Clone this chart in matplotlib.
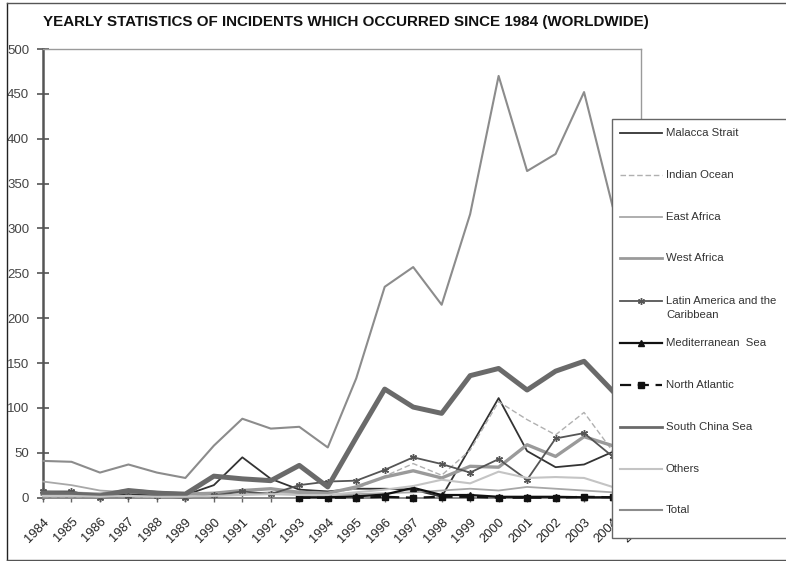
import numpy as np
import matplotlib
matplotlib.use("Agg")
import matplotlib.pyplot as plt
from matplotlib.lines import Line2D
from matplotlib.patches import Rectangle

plt.rcParams['font.family'] = ['Liberation Sans', 'DejaVu Sans']

years = list(range(1984, 2005))
tick_years = list(range(1984, 2006))
nan = np.nan

malacca = [6, 6, 3, 4, 3, 3, 14, 45, 21, 9, 7, 10, 10, 9, 1, 56, 111, 52, 34, 37, 51]
indian = [1, 1, 1, 1, 1, 1, 2, 4, 6, 7, 5, 10, 24, 38, 25, 53, 107, 87, 70, 95, 52]
east_africa = [18, 14, 8, 6, 5, 4, 3, 4, 6, 5, 3, 4, 5, 6, 8, 10, 8, 12, 10, 8, 6]
west_africa = [4, 5, 4, 8, 6, 4, 5, 8, 10, 6, 5, 12, 23, 30, 22, 35, 34, 59, 46, 68, 58]
latin = [7, 7, 0, 2, 1.5, 0, 2.5, 7, 4, 14, 18, 19, 31, 45, 37.5, 28, 43, 20, 66, 72, 46]
mediterranean = [nan] * 9 + [0.5, 0.5, 1.5, 3.5, 11, 3, 3, 1, 1, 1, 0.5, 0.5]
north_atlantic = [nan] * 9 + [0, 0, 0, 1, 0, 1, 1, 0, 0, 0, 1, 0.5]
south_china = [5, 4, 2, 8, 5, 4, 24, 21, 19, 36, 12, 67, 121, 101, 94, 136, 144, 120, 141, 152, 119]
others = [2, 2, 1, 2, 1, 1, 2, 3, 4, 3, 3, 6, 9, 13, 20, 16, 29, 22, 23, 22, 12]
total = [41, 40, 28, 37, 28, 22, 58, 88, 77, 79, 56, 133, 235, 257, 215, 316, 470, 364, 383, 452, 325]

series = [
    ("Malacca Strait", malacca, dict(color="#333333", lw=1.3)),
    ("Indian Ocean", indian, dict(color="#b0b0b0", lw=1.0, dashes=(4, 2))),
    ("East Africa", east_africa, dict(color="#a8a8a8", lw=1.3)),
    ("West Africa", west_africa, dict(color="#9a9a9a", lw=2.4)),
    ("Latin America and the\nCaribbean", latin, dict(color="#555555", lw=1.3, marker=(6, 2, 0), ms=5, mew=1.0)),
    ("Mediterranean  Sea", mediterranean, dict(color="#111111", lw=1.6, marker="^", ms=5)),
    ("North Atlantic", north_atlantic, dict(color="#111111", lw=1.6, dashes=(5, 3), marker="s", ms=5)),
    ("South China Sea", south_china, dict(color="#6a6a6a", lw=3.6)),
    ("Others", others, dict(color="#c4c4c4", lw=1.5)),
    ("Total", total, dict(color="#8c8c8c", lw=1.5)),
]

W, H = 786, 561
fig = plt.figure(figsize=(W / 100, H / 100), dpi=100)

def fx(px):
    return px / W

def fy(py):
    return 1 - py / H

ax_l, ax_r, ax_t, ax_b = 43, 641, 49, 497.7
ax = fig.add_axes([fx(ax_l), fy(ax_b), fx(ax_r - ax_l), (ax_b - ax_t) / H])

draw_order = [7, 9, 3, 2, 8, 1, 0, 4, 6, 5]
for i in draw_order:
    name, vals, st = series[i]
    ax.plot(years, vals, clip_on=False, zorder=3 + i * 0.1, **st)

ax.set_xlim(1984, 2005)
ax.set_ylim(0, 500)
ax.set_yticks(range(0, 501, 50))
ax.set_xticks(tick_years)
ax.set_xticklabels([str(y) for y in tick_years], rotation=45, ha="right",
                   va="top", rotation_mode="anchor", fontsize=9.3, color="#222222")
for lab in ax.get_yticklabels():
    lab.set_fontsize(9.5)
    lab.set_color("#444444")
ax.tick_params(axis="y", direction="inout", length=8, width=1.2, color="#555555", pad=6)
ax.tick_params(axis="x", direction="inout", length=6, width=1.0, color="#666666", pad=10)

for s in ["top", "right"]:
    ax.spines[s].set_color("#9a9a9a")
    ax.spines[s].set_linewidth(1.0)
ax.spines["left"].set_color("#555555")
ax.spines["left"].set_linewidth(1.8)
ax.spines["bottom"].set_color("#888888")
ax.spines["bottom"].set_linewidth(1.4)

fig.text(fx(43), fy(22), "YEARLY STATISTICS OF INCIDENTS WHICH OCCURRED SINCE 1984 (WORLDWIDE)",
         ha="left", va="center", fontsize=10.9, fontweight="bold", color="#111111")

# figure border
fig.add_artist(Line2D([fx(7), fx(7)], [fy(3), fy(560)], transform=fig.transFigure, color="#222222", lw=1))
fig.add_artist(Line2D([fx(7), 1], [fy(3), fy(3)], transform=fig.transFigure, color="#555555", lw=1))
fig.add_artist(Line2D([fx(7), 1], [fy(560), fy(560)], transform=fig.transFigure, color="#555555", lw=1))

# legend
lg_l, lg_t, lg_b = 612, 119, 538
fig.add_artist(Rectangle((fx(lg_l), fy(lg_b)), fx(200), (lg_b - lg_t) / H, transform=fig.transFigure,
                         facecolor="white", edgecolor="#666666", lw=1.0, zorder=10))
leg_y = [133, 174.5, 216.5, 258, 301, 342.5, 385, 426.5, 468.5, 510]
for (name, vals, st), yy in zip(series, leg_y):
    lst = dict(st)
    lst["lw"] = min(lst["lw"], 2.0)
    ln = Line2D([fx(620), fx(662)], [fy(yy), fy(yy)], transform=fig.transFigure, zorder=11,
                markevery=[], **lst)
    fig.add_artist(ln)
    if "marker" in st:
        mk = dict(st)
        mk.pop("dashes", None)
        mk.pop("lw", None)
        fig.add_artist(Line2D([fx(641)], [fy(yy)], transform=fig.transFigure, zorder=12, lw=0, **mk))
    lines = name.split("\n")
    for k, t in enumerate(lines):
        fig.text(fx(666), fy(yy + k * 14), t, ha="left", va="center", fontsize=8.2,
                 color="#333333", zorder=13)

fig.savefig("out.png", dpi=100)
